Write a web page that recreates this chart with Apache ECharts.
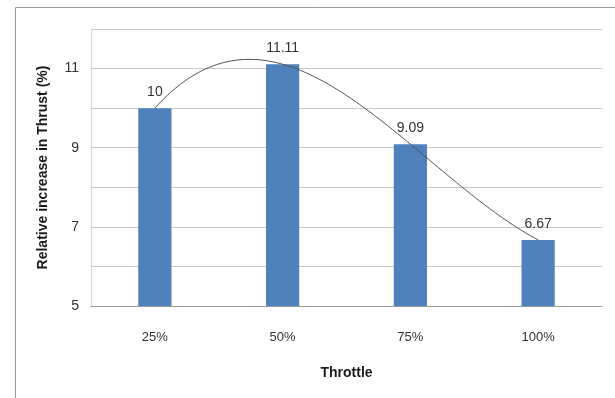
<!DOCTYPE html>
<html>
<head>
<meta charset="utf-8">
<script src="https://cdn.jsdelivr.net/npm/echarts@6/dist/echarts.min.js"></script>
<style>
  html, body { margin: 0; padding: 0; background: #fff; }
  #chart { width: 615px; height: 398px; }
</style>
</head>
<body>
<div id="chart"></div>
<script>
// Throttle settings and relative thrust gain (%)
const categories = ['25%', '50%', '75%', '100%'];
const thrustIncrease = [10, 11.11, 9.09, 6.67];
const yTickLabels = { 5: '5', 7: '7', 9: '9', 11: '11' };
const trendOrder = 3;

// Least-squares polynomial trendline over category positions 1..n
function polyFit(xs, ys, order) {
  const m = order + 1;
  const A = [];
  for (let r = 0; r < m; r++) {
    A.push(new Array(m + 1).fill(0));
    for (let c = 0; c < m; c++) {
      A[r][c] = xs.reduce((s, x) => s + Math.pow(x, r + c), 0);
    }
    A[r][m] = xs.reduce((s, x, i) => s + ys[i] * Math.pow(x, r), 0);
  }
  for (let p = 0; p < m; p++) {
    let best = p;
    for (let r = p + 1; r < m; r++) if (Math.abs(A[r][p]) > Math.abs(A[best][p])) best = r;
    [A[p], A[best]] = [A[best], A[p]];
    for (let r = 0; r < m; r++) {
      if (r === p) continue;
      const f = A[r][p] / A[p][p];
      for (let c = p; c <= m; c++) A[r][c] -= f * A[p][c];
    }
  }
  return A.map((row, i) => row[m] / row[i]);
}

const xPos = thrustIncrease.map((_, i) => i + 1);
const coef = polyFit(xPos, thrustIncrease, trendOrder);
const trendValue = x => coef.reduce((s, c, k) => s + c * Math.pow(x, k), 0);
const trendPoints = [];
for (let x = 1; x <= thrustIncrease.length + 1e-9; x += 0.02) {
  trendPoints.push([x, trendValue(x)]);
}

const chart = echarts.init(document.getElementById('chart'), null, { renderer: 'canvas' });

chart.setOption({
  backgroundColor: '#ffffff',
  animation: false,
  graphic: [
    {
      type: 'polyline',
      shape: { points: [[15.5, 398], [15.5, 7.5], [615, 7.5]] },
      style: { stroke: '#9a9a9a', lineWidth: 1, fill: null },
      silent: true
    }
  ],
  grid: { left: 91, right: 13, top: 29, bottom: 92, containLabel: false },
  xAxis: [
    {
      type: 'category',
      data: categories,
      boundaryGap: true,
      name: 'Throttle',
      nameLocation: 'middle',
      nameGap: 60,
      nameTextStyle: { fontFamily: 'Liberation Sans Narrow, Arial, sans-serif', fontWeight: 'bold', fontSize: 14, color: '#1a1a1a' },
      axisLine: { show: true, lineStyle: { color: '#9a9a9a', width: 1 } },
      axisTick: { show: false },
      axisLabel: { margin: 25, fontFamily: 'Liberation Sans Narrow, Arial, sans-serif', fontSize: 13, color: '#333' },
      splitLine: { show: false }
    },
    {
      // hidden numeric axis aligned with category centres, used by the trendline
      type: 'value',
      min: 0.5,
      max: thrustIncrease.length + 0.5,
      show: false
    }
  ],
  yAxis: {
    type: 'value',
    min: 5,
    max: 12,
    interval: 1,
    name: 'Relative increase in Thrust (%)',
    nameLocation: 'middle',
    nameGap: 41,
    nameTextStyle: { fontFamily: 'Liberation Sans, Arial, sans-serif', fontWeight: 'bold', fontSize: 14, color: '#1a1a1a' },
    axisLine: { show: true, lineStyle: { color: '#d4d4d4', width: 1 } },
    axisTick: { show: false },
    axisLabel: {
      margin: 12,
      fontFamily: 'Liberation Sans, Arial, sans-serif',
      fontSize: 14,
      color: '#333',
      formatter: v => yTickLabels[v] || ''
    },
    splitLine: { show: true, lineStyle: { color: '#c8c8c8', width: 1 } }
  },
  series: [
    {
      type: 'bar',
      data: thrustIncrease,
      barWidth: '26%',
      itemStyle: { color: '#4f81bd' },
      label: {
        show: true,
        position: 'top',
        distance: 9,
        fontFamily: 'Liberation Sans Narrow, Arial, sans-serif',
        fontSize: 14,
        color: '#333',
        formatter: p => String(p.value)
      },
      z: 2
    },
    {
      name: 'Poly. trendline',
      type: 'line',
      xAxisIndex: 1,
      data: trendPoints,
      symbol: 'none',
      lineStyle: { color: '#505050', width: 1 },
      z: 3
    }
  ]
});
</script>
</body>
</html>
